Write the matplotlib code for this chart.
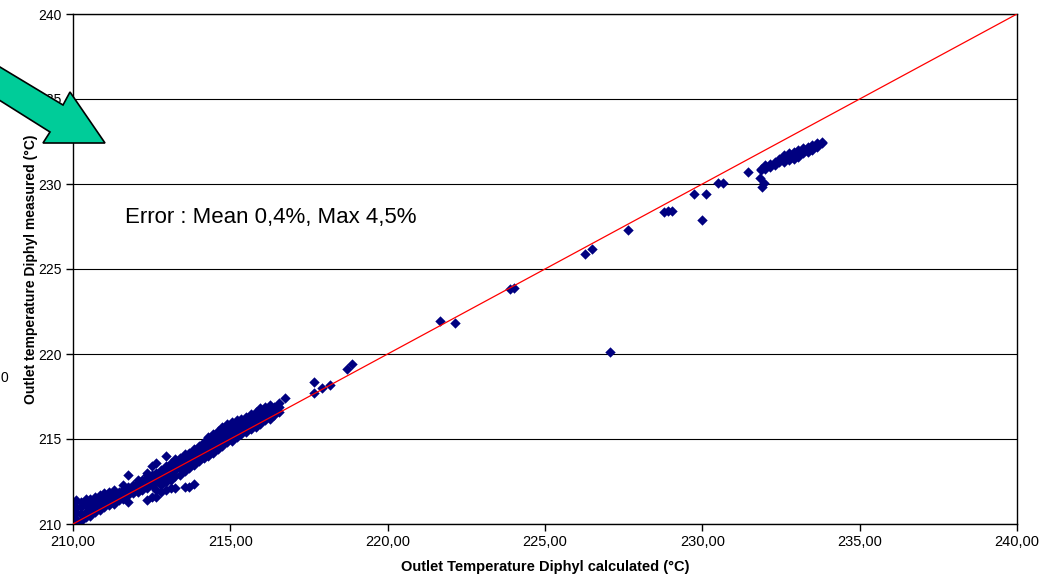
import matplotlib.pyplot as plt
from matplotlib.patches import Polygon
from matplotlib.ticker import FuncFormatter

plt.rcParams['font.family'] = ['Liberation Sans', 'DejaVu Sans']

# main band of operating points: (calculated, [measured values at that calculated temp])
band_rows = [
    (210.00, [210.1, 210.5, 210.9, 211.2]),
    (210.10, [210.0, 210.3, 210.7, 211.0, 211.4]),
    (210.25, [210.2, 210.6, 211.0, 211.3]),
    (210.40, [210.4, 210.7, 211.1, 211.5]),
    (210.55, [210.5, 210.9, 211.2, 211.5]),
    (210.70, [210.7, 211.0, 211.3, 211.6]),
    (210.85, [210.8, 211.1, 211.4, 211.7]),
    (211.00, [211.0, 211.3, 211.6, 211.8]),
    (211.15, [211.1, 211.4, 211.7, 211.9]),
    (211.30, [211.2, 211.5, 211.8, 212.0]),
    (211.45, [211.4, 211.6, 211.9]),
    (211.60, [211.5, 211.8, 212.0, 212.3]),
    (211.75, [211.3, 211.7, 211.9, 212.2, 212.9]),
    (211.90, [211.8, 212.0, 212.3]),
    (212.05, [211.9, 212.1, 212.4, 212.6]),
    (212.20, [212.0, 212.3, 212.6]),
    (212.35, [211.4, 212.1, 212.4, 212.7, 212.9, 213.0]),
    (212.50, [211.6, 212.3, 212.6, 212.9, 213.4]),
    (212.65, [211.6, 212.0, 212.5, 212.8, 213.0, 213.6]),
    (212.80, [211.9, 212.3, 212.6, 212.9, 213.2]),
    (212.95, [212.0, 212.5, 212.8, 213.1, 213.4, 214.0]),
    (213.10, [212.1, 212.6, 213.0, 213.3, 213.6]),
    (213.25, [212.1, 212.8, 213.2, 213.5, 213.8]),
    (213.40, [212.9, 213.3, 213.6, 213.9]),
    (213.55, [212.2, 213.1, 213.5, 213.8, 214.1]),
    (213.70, [212.2, 213.3, 213.6, 213.9, 214.2]),
    (213.85, [212.35, 213.5, 213.8, 214.1, 214.4]),
    (214.00, [213.7, 214.0, 214.3, 214.6]),
    (214.15, [213.9, 214.2, 214.5, 214.8]),
    (214.30, [214.0, 214.3, 214.6, 214.9, 215.1]),
    (214.45, [214.2, 214.5, 214.8, 215.1, 215.3]),
    (214.60, [214.4, 214.7, 215.0, 215.3, 215.5]),
    (214.75, [214.6, 214.9, 215.2, 215.5, 215.7]),
    (214.90, [214.8, 215.1, 215.4, 215.7, 215.9]),
    (215.05, [214.9, 215.2, 215.5, 215.8, 216.0]),
    (215.20, [215.1, 215.4, 215.7, 216.0, 216.1]),
    (215.35, [215.3, 215.6, 215.9, 216.2]),
    (215.50, [215.4, 215.7, 216.0, 216.3]),
    (215.65, [215.6, 215.9, 216.2, 216.5]),
    (215.80, [215.7, 216.0, 216.3, 216.6]),
    (215.95, [215.9, 216.2, 216.5, 216.8]),
    (216.10, [216.1, 216.4, 216.7, 216.9]),
    (216.25, [216.2, 216.5, 216.8, 217.0]),
    (216.40, [216.4, 216.7, 216.9]),
    (216.55, [216.6, 216.9, 217.1]),
    (216.75, [217.4]),
    # high-load cluster
    (231.85, [230.8, 230.9]),
    (232.00, [230.9, 231.1]),
    (232.15, [231.0, 231.2]),
    (232.30, [231.1, 231.3]),
    (232.45, [231.3, 231.5]),
    (232.60, [231.3, 231.5, 231.7]),
    (232.75, [231.4, 231.6, 231.8]),
    (232.90, [231.5, 231.7, 231.9]),
    (233.05, [231.6, 231.8, 232.0]),
    (233.20, [231.8, 232.0, 232.1]),
    (233.35, [231.9, 232.1, 232.2]),
    (233.50, [232.0, 232.2, 232.3]),
    (233.65, [232.2, 232.4]),
    (233.80, [232.4, 232.5]),
]

# single transient points
t_calc = [217.66, 217.66, 217.90, 218.17, 218.70, 218.87, 221.65, 222.14, 223.89, 224.00,
          226.27, 226.50, 227.05, 227.64, 228.78, 228.90, 229.03, 229.73, 229.99, 230.11,
          230.49, 230.65, 231.45, 231.83, 231.89, 231.96]
t_meas = [218.35, 217.70, 218.00, 218.20, 219.10, 219.40, 221.95, 221.80, 223.82, 223.90,
          225.88, 226.20, 220.10, 227.30, 228.35, 228.40, 228.40, 229.41, 227.88, 229.41,
          230.06, 230.06, 230.70, 230.35, 229.82, 230.06]

calc = [x for x, ys in band_rows for _ in ys] + t_calc
meas = [y for _, ys in band_rows for y in ys] + t_meas

W, H = 1040, 575
fig = plt.figure(figsize=(W / 100, H / 100), dpi=100)
ax = fig.add_axes([73 / W, 51 / H, 944 / W, 510 / H])

ax.plot([210, 240], [210, 240], color='red', lw=0.9, zorder=3)
ax.scatter(calc, meas, marker='D', s=28, color='#000080', linewidths=0, zorder=2)

ax.set_xlim(210, 240)
ax.set_ylim(210, 240)
ax.set_xticks(range(210, 241, 5))
ax.set_yticks(range(210, 241, 5))
ax.xaxis.set_major_formatter(FuncFormatter(lambda v, p: f'{v:.2f}'.replace('.', ',')))
ax.tick_params(direction='out', length=5, width=1, pad=3)
ax.tick_params(axis='x', labelsize=10.5)
ax.tick_params(axis='y', labelsize=10)
ax.grid(axis='y', color='black', lw=0.8)
ax.set_axisbelow(True)
for s in ax.spines.values():
    s.set_color('black')
    s.set_linewidth(1)

ax.set_xlabel('Outlet Temperature Diphyl calculated (°C)', fontsize=10.5, fontweight='bold', labelpad=8)
ax.set_ylabel('Outlet temperature Diphyl measured (°C)', fontsize=10, fontweight='bold', labelpad=0)

ax.text(125 / W, 1 - 217 / H, 'Error : Mean 0,4%, Max 4,5%', transform=fig.transFigure,
        fontsize=16, va='center')

# big green arrow pointing into the plot
pts = [(-20, 55), (63, 105), (70, 92), (105, 143), (43, 143), (50, 132), (-20, 88)]
fig.patches.append(Polygon([(x / W, 1 - y / H) for x, y in pts], closed=True,
                           transform=fig.transFigure, facecolor='#00CC99', edgecolor='black',
                           lw=1.2, zorder=10))

fig.text(0.5 / W, 1 - 378 / H, '0', fontsize=10, va='center', ha='left')

fig.savefig('out.png', dpi=100)
